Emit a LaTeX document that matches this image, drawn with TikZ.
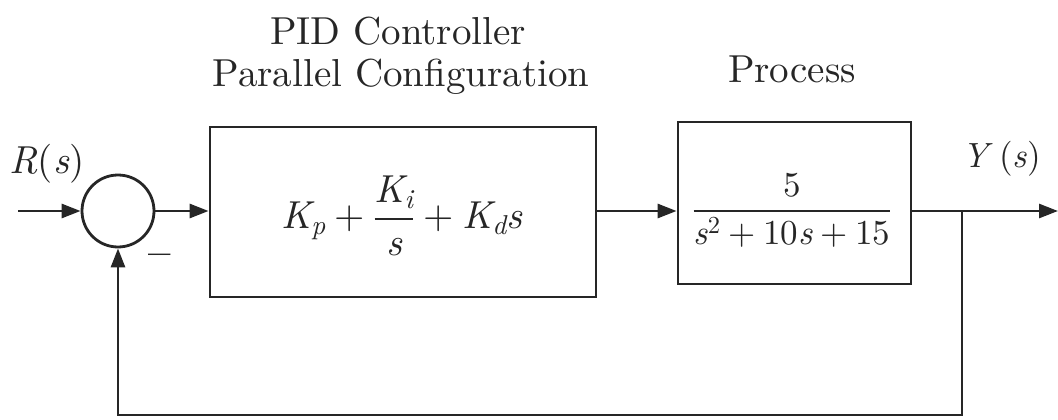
\RequirePackage{fix-cm}
\documentclass[tikz,border=0pt]{standalone}
\usepackage{amsmath}
\usepackage{fontspec}
\setmainfont{lmroman10-regular.otf}[ItalicFont=lmroman10-italic.otf,BoldFont=lmroman10-bold.otf]
\usetikzlibrary{arrows.meta}
\newcommand{\vi}[1]{\textit{#1}}
\newcommand{\pls}{\mathbin{\text{+}}}
\begin{document}
\begin{tikzpicture}[x=1pt,y=-1pt,line width=2.8pt,
  every node/.style={text=black!85},
  sig/.style={draw=black!85,-{Triangle[length=19pt,width=14pt]}},
  ln/.style={draw=black!85},
  blk/.style={draw=black!85,rectangle,inner sep=0pt},
  big/.style={font=\fontsize{39}{47}\selectfont,inner sep=0pt},
  mid/.style={font=\fontsize{35}{43}\selectfont,inner sep=0pt}]
\useasboundingbox (0,0) rectangle (1058,420);
% blocks
\node[draw=black!85,circle,minimum size=72pt,inner sep=0pt] (sum) at (118,211) {};
\node[blk,minimum width=386pt,minimum height=170pt] (pid) at (403,212) {};
\node[big] (pidtf) at (402,216)
  {$\vi{K}_{\vi{p}}\pls\genfrac{}{}{1.8pt}{0}{\vi{K}_{\vi{i}}}{\vi{s}}\pls\vi{K}_{\vi{d}}\vi{s}$};
\node[blk,minimum width=233pt,minimum height=162pt] (proc) at (794.5,203) {};
\node[mid] (proctf) at (792,210)
  {$\genfrac{}{}{1.8pt}{0}{\text{5}}{\vi{s}^{\text{2}}\pls\text{10}\vi{s}\pls\text{15}}$};
% signals
\coordinate (in) at (18,211);
\coordinate (br) at (962,211);
\coordinate (out) at (1058,211);
\coordinate (fb) at (962,415);
\draw[sig] (in) -- (sum.west);
\draw[sig] (sum.east) -- (sum.east -| pid.west);
\draw[sig] (sum.east -| pid.east) -- (sum.east -| proc.west);
\draw[ln] (br -| proc.east) -- (br);
\draw[sig] (br) -- (out);
\draw[sig] (br) -- (fb) -| (sum.south);
% labels
\node[big,anchor=base] (rlbl) at (47,173) {\vi{R}(\vi{s})};
\node[mid,anchor=base] (ylbl) at (1002,167) {\vi{Y}\,(\vi{s})};
\node[big] (minus) at (160,260) {\bfseries --};
\node[big,anchor=base] (t1) at (398,45) {PID Controller};
\node[big,anchor=base] (t2) at (401,87) {Parallel Configuration};
\node[big,anchor=base] (t3) at (792,82) {Process};
\end{tikzpicture}
\end{document}
